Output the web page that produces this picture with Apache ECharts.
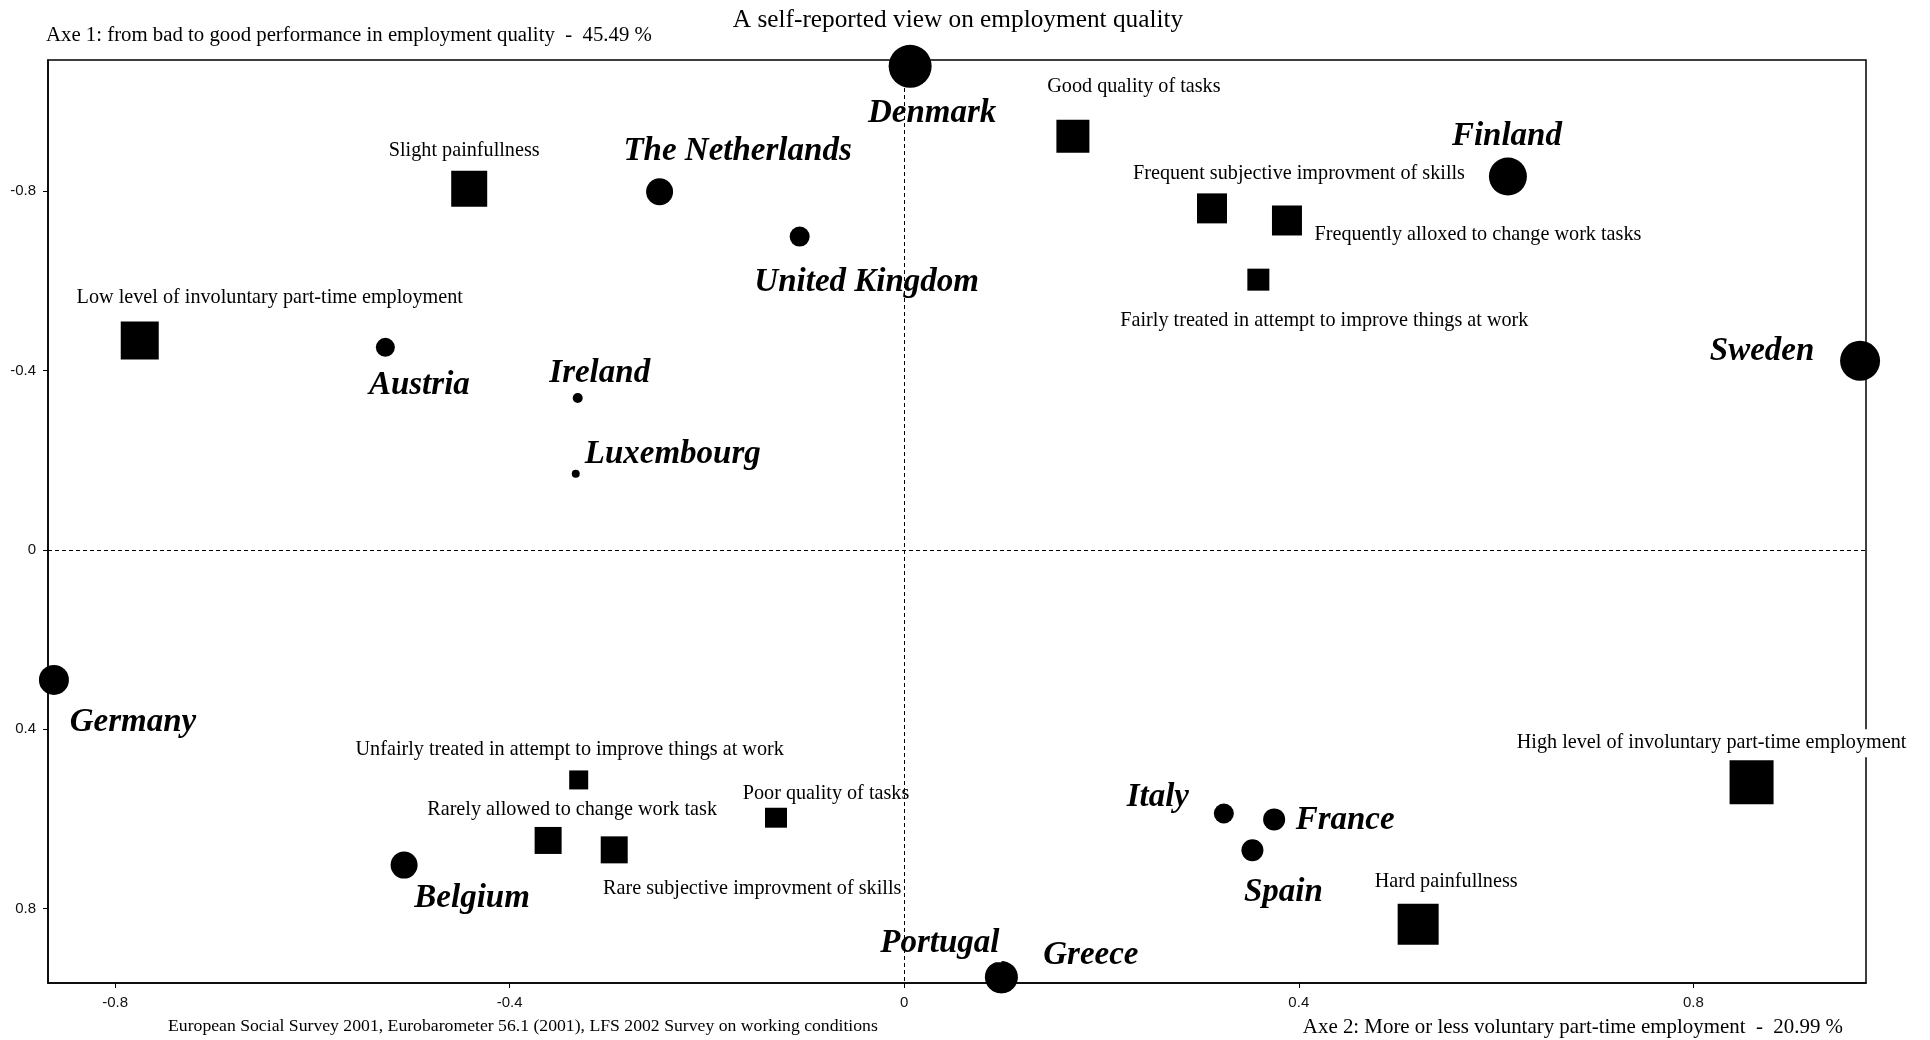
<!DOCTYPE html>
<html>
<head>
<meta charset="utf-8">
<script src="https://cdn.jsdelivr.net/npm/echarts@6/dist/echarts.min.js"></script>
<style>
html,body{margin:0;padding:0;background:#fff;}
#chart{width:1930px;height:1040px;}
</style>
</head>
<body>
<div id="chart"></div>
<script>
// ---- Data ----
const countries = ["Denmark","The Netherlands","United Kingdom","Finland","Sweden","Austria","Ireland","Luxembourg","Germany","Belgium","Portugal","Greece","Italy","France","Spain"];
const countryAxe2 = [0.006, -0.248, -0.106, 0.612, 0.969, -0.526, -0.331, -0.333, -0.862, -0.507, 0.098, 0.099, 0.324, 0.375, 0.353];
const countryAxe1 = [-1.079, -0.799, -0.699, -0.833, -0.422, -0.452, -0.339, -0.170, 0.290, 0.703, 0.953, 0.953, 0.588, 0.601, 0.670];

const modalities = ["Good quality of tasks","Slight painfullness","Low level of involuntary part-time employment","Frequent subjective improvment of skills","Frequently alloxed to change work tasks","Fairly treated in attempt to improve things at work","Unfairly treated in attempt to improve things at work","Rarely allowed to change work task","Rare subjective improvment of skills","Poor quality of tasks","High level of involuntary part-time employment","Hard painfullness"];
const modalityAxe2 = [0.171, -0.441, -0.775, 0.312, 0.388, 0.359, -0.330, -0.361, -0.294, -0.130, 0.859, 0.521];
const modalityAxe1 = [-0.923, -0.806, -0.467, -0.762, -0.735, -0.603, 0.513, 0.648, 0.669, 0.595, 0.518, 0.835];

const tickValues = [-0.8, -0.4, 0, 0.4, 0.8];

const titleText = "A self-reported view on employment quality";
const axe1Text = "Axe 1: from bad to good performance in employment quality  -  45.49 %";
const axe2Text = "Axe 2: More or less voluntary part-time employment  -  20.99 %";
const sourceText = "European Social Survey 2001, Eurobarometer 56.1 (2001), LFS 2002 Survey on working conditions";

// ---- Styling (marker sizes and label offsets, in pixels) ----
const countrySizes = [43, 27, 20, 38, 40, 19, 10, 8, 30, 27, 32, 32, 20, 22, 22];
const countryLabelOffsets = [[22,45],[78,-43],[67,43],[-1,-43],[-98,-12],[34,36],[22,-27],[97,-22],[79,40],[68,31],[-61,-36],[89,-24],[-66,-19],[71,-1],[31,40]];
const countryLabelShiftY = 2.5;
const modalitySizes = [33, 36, 38, 30, 30, 22, 19, 27, 27, 22, 44, 41];
const modalityLabelOffsets = [[61,-51],[-5,-39],[130,-44],[87,-36],[191,13],[66,40],[-9,-31],[24,-32],[138,38],[50,-24],[-40,-40],[28,-44]];
const modalityLabelShiftY = 1;

const SERIF = '"Liberation Serif", "Times New Roman", serif';
const SANS = '"Liberation Sans", Arial, sans-serif';

const countryData = countries.map((n, i) => ({
  name: n,
  value: [countryAxe2[i], countryAxe1[i]],
  symbolSize: countrySizes[i],
  label: { offset: [countryLabelOffsets[i][0], countryLabelOffsets[i][1] + countryLabelShiftY] }
}));
const modalityData = modalities.map((n, i) => ({
  name: n,
  value: [modalityAxe2[i], modalityAxe1[i]],
  symbolSize: modalitySizes[i],
  label: { offset: [modalityLabelOffsets[i][0], modalityLabelOffsets[i][1] + modalityLabelShiftY] }
}));

const chart = echarts.init(document.getElementById('chart'), null, { renderer: 'canvas' });

const axisCommon = {
  type: 'value',
  splitLine: { show: false },
  axisLine: { show: true, onZero: false, lineStyle: { color: '#000', width: 1.5 } },
  axisTick: { show: true, inside: false, length: 5, customValues: tickValues, lineStyle: { color: '#000', width: 1 } },
  axisLabel: { customValues: tickValues, fontFamily: SANS, fontSize: 15, color: '#111' }
};

chart.setOption({
  animation: false,
  backgroundColor: '#fff',
  grid: {
    left: 48, right: 64, top: 60, bottom: 57,
    show: true, borderColor: '#000', borderWidth: 1.5,
    containLabel: false,
    outerBoundsMode: 'none'
  },
  xAxis: Object.assign({}, axisCommon, {
    min: -0.868, max: 0.975, position: 'bottom',
    axisLabel: Object.assign({}, axisCommon.axisLabel, { margin: 12 })
  }),
  yAxis: Object.assign({}, axisCommon, {
    min: -1.093, max: 0.966, inverse: true, position: 'left',
    axisLabel: Object.assign({}, axisCommon.axisLabel, { margin: 12 })
  }),
  graphic: [
    { type: 'text', x: 958, y: 20, style: { text: titleText, font: '25.3px ' + SERIF, fill: '#000', textAlign: 'center', align: 'center', textVerticalAlign: 'middle', verticalAlign: 'middle' } },
    { type: 'text', x: 46, y: 36, style: { text: axe1Text, font: '20.8px ' + SERIF, fill: '#000', textAlign: 'left', align: 'left', textVerticalAlign: 'middle', verticalAlign: 'middle' } },
    { type: 'text', x: 168, y: 1026, style: { text: sourceText, font: '17.7px ' + SERIF, fill: '#000', textAlign: 'left', align: 'left', textVerticalAlign: 'middle', verticalAlign: 'middle' } },
    { type: 'text', x: 1843, y: 1028, style: { text: axe2Text, font: '20.9px ' + SERIF, fill: '#000', textAlign: 'right', align: 'right', textVerticalAlign: 'middle', verticalAlign: 'middle' } }
  ],
  series: [
    {
      name: 'axes', type: 'scatter', data: [], silent: true,
      markLine: {
        silent: true, symbol: ['none', 'none'], animation: false,
        label: { show: false },
        lineStyle: { color: '#000', width: 1, type: [4, 3], opacity: 1 },
        data: [{ xAxis: 0 }, { yAxis: 0 }]
      }
    },
    {
      name: 'Countries', type: 'scatter', clip: false, symbol: 'circle',
      itemStyle: { color: '#000', opacity: 1 },
      label: {
        show: true, position: 'inside', formatter: '{b}',
        align: 'center', verticalAlign: 'middle',
        fontFamily: SERIF, fontSize: 33, fontWeight: 'bold', fontStyle: 'italic', color: '#000',
        backgroundColor: '#fff', padding: [2, 2]
      },
      data: countryData,
      z: 3
    },
    {
      name: 'Modalities', type: 'scatter', clip: false, symbol: 'rect',
      itemStyle: { color: '#000', opacity: 1 },
      label: {
        show: true, position: 'inside', formatter: '{b}',
        align: 'center', verticalAlign: 'middle',
        fontFamily: SERIF, fontSize: 20.2, color: '#000',
        backgroundColor: '#fff', padding: [4, 1]
      },
      data: modalityData,
      z: 3
    }
  ]
});
</script>
</body>
</html>
